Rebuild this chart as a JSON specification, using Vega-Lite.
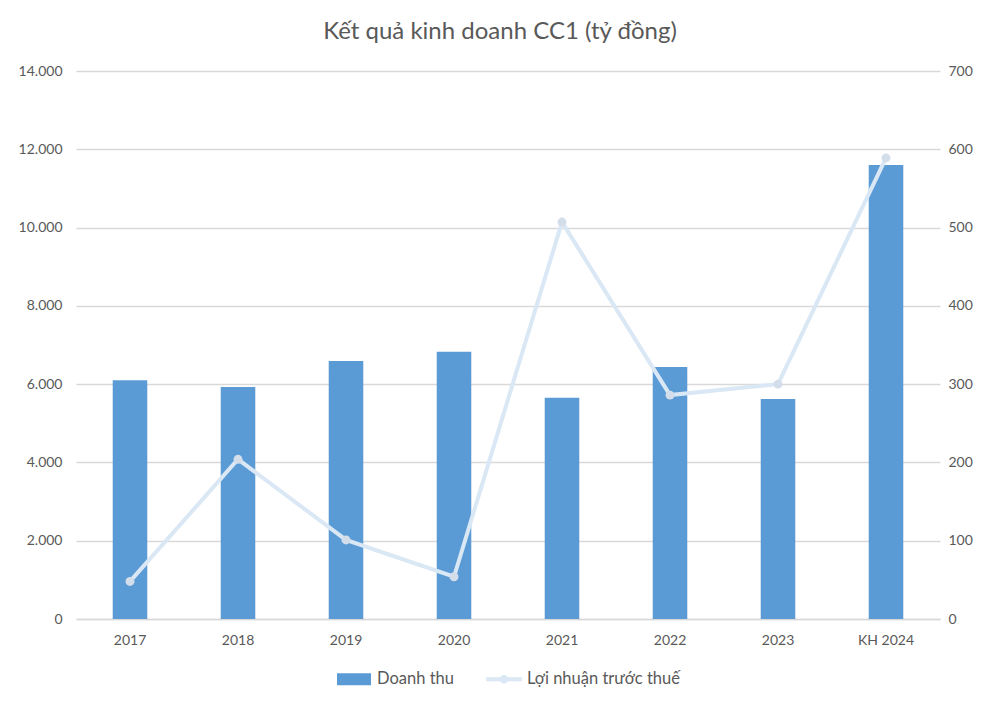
{
  "$schema": "https://vega.github.io/schema/vega-lite/v6.json",
  "autosize": "none",
  "width": 864,
  "height": 548,
  "padding": {"left": 76, "top": 71, "right": 60, "bottom": 88},
  "background": "white",
  "config": {
    "font": "Lato",
    "view": {"stroke": null},
    "locale": {"number": {"decimal": ",", "thousands": ".", "grouping": [3], "currency": ["", ""]}},
    "axis": {"labelColor": "#595959", "labelFontSize": 14, "labelFont": "Lato", "ticks": false, "domain": false, "gridColor": "#d9d9d9", "titleColor": "#595959"},
    "legend": {"layout": {"bottom": {"anchor": "middle"}}}
  },
  "title": {"text": "Kết quả kinh doanh CC1 (tỷ đồng)", "fontSize": 24, "fontWeight": "normal", "color": "#595959", "font": "Lato", "offset": 20, "dx": -8},
  "data": {"values": [
    {"nam": "2017", "doanhthu": 6100, "loinhuan": 48},
    {"nam": "2018", "doanhthu": 5930, "loinhuan": 204},
    {"nam": "2019", "doanhthu": 6590, "loinhuan": 101},
    {"nam": "2020", "doanhthu": 6830, "loinhuan": 54},
    {"nam": "2021", "doanhthu": 5650, "loinhuan": 507},
    {"nam": "2022", "doanhthu": 6440, "loinhuan": 286},
    {"nam": "2023", "doanhthu": 5620, "loinhuan": 300},
    {"nam": "KH 2024", "doanhthu": 11600, "loinhuan": 589}
  ]},
  "encoding": {
    "x": {"field": "nam", "type": "nominal", "sort": null, "title": null,
      "scale": {"paddingInner": 0.68, "paddingOuter": 0.34},
      "axis": {"labelAngle": 0, "labelPadding": 14, "domain": true, "domainColor": "#d9d9d9", "domainWidth": 1.5}}
  },
  "layer": [
    {
      "mark": {"type": "bar"},
      "encoding": {
        "y": {"field": "doanhthu", "type": "quantitative", "title": null,
          "scale": {"domain": [0, 14000]},
          "axis": {"values": [0, 2000, 4000, 6000, 8000, 10000, 12000, 14000], "format": ",.0f", "labelPadding": 14, "grid": true, "gridWidth": 1.5}},
        "color": {"datum": "Doanh thu", "type": "nominal",
          "scale": {"domain": ["Doanh thu", "Lợi nhuận trước thuế"], "range": ["#5b9bd5", "#dae7f4"]},
          "legend": {"title": null, "orient": "bottom", "direction": "horizontal", "offset": 15, "labelFontSize": 16.5, "labelColor": "#595959", "labelFont": "Lato", "symbolSize": 1156, "columnPadding": 32, "labelOffset": 6,
            "encode": {"symbols": {"update": {
              "shape": {"signal": "datum.value === 'Doanh thu' ? 'M-1,-0.35H1V0.35H-1Z' : 'M-1.05,-0.12H1.05V0.12H-1.05Z M0.25,0 A0.25,0.25 0 1,1 -0.25,0 A0.25,0.25 0 1,1 0.25,0Z'"},
              "fill": {"signal": "datum.value === 'Doanh thu' ? '#5b9bd5' : '#dae7f4'"},
              "strokeWidth": {"value": 0},
              "opacity": {"value": 1}
            }}}}
        }
      }
    },
    {
      "encoding": {
        "y": {"field": "loinhuan", "type": "quantitative", "title": null,
          "scale": {"domain": [0, 700]},
          "axis": {"orient": "right", "values": [0, 100, 200, 300, 400, 500, 600, 700], "labelPadding": 8, "grid": false}}
      },
      "layer": [
        {
          "mark": {"type": "line", "strokeWidth": 4, "color": "#dae7f4"},
          "encoding": {
            "color": {"datum": "Lợi nhuận trước thuế", "type": "nominal"}
          }
        },
        {
          "mark": {"type": "point", "filled": true, "size": 80, "color": "#d3deea", "opacity": 1},
          "encoding": {}
        }
      ]
    }
  ],
  "resolve": {"scale": {"y": "independent"}}
}
